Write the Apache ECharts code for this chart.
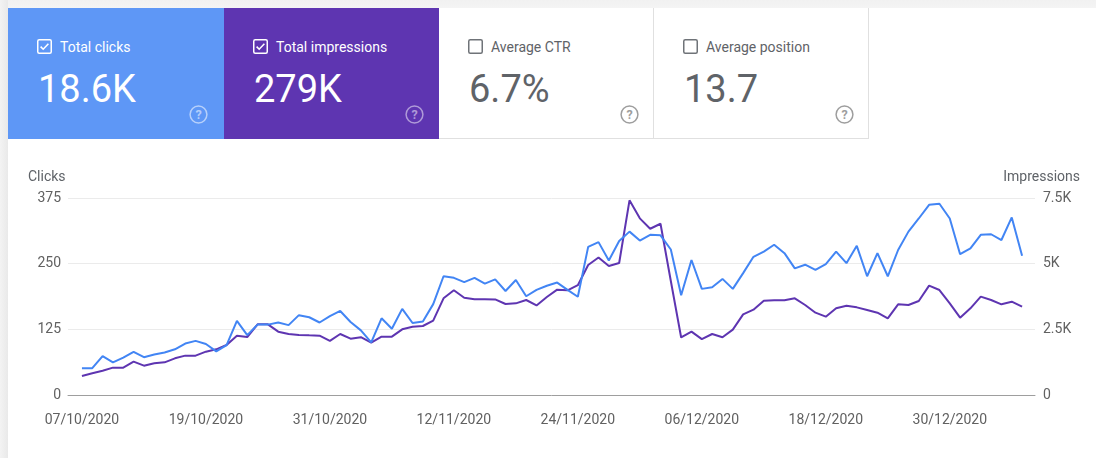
<!DOCTYPE html>
<html>
<head>
<meta charset="utf-8">
<script src="https://cdn.jsdelivr.net/npm/echarts@6/dist/echarts.min.js"></script>
<style>
  html, body { margin:0; padding:0; width:1096px; height:458px; overflow:hidden; background:#fff; font-family: Roboto, "Noto Sans", Arial, sans-serif; }
  #topstrip { position:absolute; left:0; top:0; width:1096px; height:8px; background:linear-gradient(#f1f1f1,#f4f4f4); }
  #leftstrip { position:absolute; left:0; top:0; width:8px; height:458px; background:linear-gradient(to right,#f3f3f3,#e9e9e9); }
  #chart { position:absolute; left:0; top:0; width:1096px; height:458px; }
  .card { position:absolute; top:8px; width:215px; height:131px; box-sizing:border-box; z-index:2; }
  .card .cb { position:absolute; left:29px; top:31px; width:15px; height:15px; }
  .card .lbl { position:absolute; left:52px; top:31px; font-size:14px; line-height:17px; white-space:nowrap; }
  .card .val { position:absolute; left:30px; top:57px; font-size:38px; line-height:48px; white-space:nowrap; letter-spacing:0px; }
  .card .help { position:absolute; left:181px; top:97px; width:19px; height:19px; }
  .white { background:#fff; border-right:1px solid #e0e0e0; border-bottom:1px solid #e0e0e0; color:#5f6368; }
</style>
</head>
<body>
<div id="chart"></div>
<div id="topstrip"></div>
<div id="leftstrip"></div>

<div class="card" style="left:8px;width:216px;background:#5e97f6;color:#fff;">
  <svg class="cb" viewBox="0 0 15 15"><rect x="0.75" y="0.75" width="13.5" height="13.5" rx="1.5" fill="none" stroke="#fff" stroke-width="1.5"/><path d="M3.6 7.6 L6.2 10.2 L11.4 4.8" fill="none" stroke="#fff" stroke-width="1.6"/></svg>
  <div class="lbl">Total clicks</div>
  <div class="val">18.6K</div>
  <svg class="help" viewBox="0 0 19 19"><circle cx="9.5" cy="9.5" r="8.4" fill="none" stroke="rgba(255,255,255,0.55)" stroke-width="1.5"/><text x="9.5" y="14" text-anchor="middle" font-size="12.5" font-family="Roboto" font-weight="bold" fill="rgba(255,255,255,0.55)">?</text></svg>
</div>

<div class="card" style="left:224px;background:#5e35b1;color:#fff;">
  <svg class="cb" viewBox="0 0 15 15"><rect x="0.75" y="0.75" width="13.5" height="13.5" rx="1.5" fill="none" stroke="#fff" stroke-width="1.5"/><path d="M3.6 7.6 L6.2 10.2 L11.4 4.8" fill="none" stroke="#fff" stroke-width="1.6"/></svg>
  <div class="lbl">Total impressions</div>
  <div class="val">279K</div>
  <svg class="help" viewBox="0 0 19 19"><circle cx="9.5" cy="9.5" r="8.4" fill="none" stroke="rgba(255,255,255,0.5)" stroke-width="1.5"/><text x="9.5" y="14" text-anchor="middle" font-size="12.5" font-family="Roboto" font-weight="bold" fill="rgba(255,255,255,0.5)">?</text></svg>
</div>

<div class="card white" style="left:439px;">
  <svg class="cb" viewBox="0 0 15 15"><rect x="0.75" y="0.75" width="13.5" height="13.5" rx="1.5" fill="none" stroke="#6f7378" stroke-width="1.5"/></svg>
  <div class="lbl">Average CTR</div>
  <div class="val">6.7%</div>
  <svg class="help" viewBox="0 0 19 19"><circle cx="9.5" cy="9.5" r="8.4" fill="none" stroke="#9e9e9e" stroke-width="1.5"/><text x="9.5" y="14" text-anchor="middle" font-size="12.5" font-family="Roboto" font-weight="bold" fill="#9e9e9e">?</text></svg>
</div>

<div class="card white" style="left:654px;">
  <svg class="cb" viewBox="0 0 15 15"><rect x="0.75" y="0.75" width="13.5" height="13.5" rx="1.5" fill="none" stroke="#6f7378" stroke-width="1.5"/></svg>
  <div class="lbl">Average position</div>
  <div class="val">13.7</div>
  <svg class="help" viewBox="0 0 19 19"><circle cx="9.5" cy="9.5" r="8.4" fill="none" stroke="#9e9e9e" stroke-width="1.5"/><text x="9.5" y="14" text-anchor="middle" font-size="12.5" font-family="Roboto" font-weight="bold" fill="#9e9e9e">?</text></svg>
</div>

<script>
// ---- data (one value per day, 07/10/2020 .. 06/01/2021) ----
const startDate = '07/10/2020';
const clicks = [
  51, 51, 74, 62, 71, 82, 72, 77, 81, 87,
  98, 103, 97, 83, 95, 141, 114, 134, 134, 138,
  133, 152, 148, 138, 150, 160, 139, 123, 100, 146,
  126, 164, 137, 140, 173, 226, 223, 215, 223, 212,
  220, 198, 219, 188, 200, 208, 214, 200, 187, 282,
  291, 256, 293, 311, 294, 305, 304, 277, 190, 257,
  202, 205, 221, 202, 232, 263, 273, 286, 270, 241,
  248, 238, 249, 273, 251, 284, 226, 270, 226, 276,
  311, 336, 362, 364, 336, 268, 279, 305, 306, 295,
  338, 265
];
const impressions = [
  723, 825, 926, 1041, 1041, 1269, 1117, 1206, 1244, 1396,
  1498, 1498, 1650, 1739, 1904, 2259, 2208, 2690, 2690, 2411,
  2322, 2284, 2271, 2259, 2060, 2322, 2145, 2200, 1990, 2221,
  2221, 2500, 2601, 2627, 2830, 3680, 3990, 3700, 3642, 3650,
  3640, 3464, 3490, 3617, 3410, 3730, 4010, 3985, 4180, 4949,
  5235, 4911, 5025, 7410, 6726, 6330, 6520, 4340, 2190, 2411,
  2125, 2322, 2200, 2490, 3071, 3250, 3591, 3604, 3604, 3680,
  3426, 3134, 2982, 3300, 3401, 3337, 3236, 3134, 2919, 3452,
  3426, 3579, 4162, 3997, 3490, 2944, 3300, 3744, 3617, 3452,
  3553, 3363
];
const dateLabels = ['07/10/2020','19/10/2020','31/10/2020','12/11/2020','24/11/2020','06/12/2020','18/12/2020','30/12/2020'];
const dateLabelDays = [0, 12, 24, 36, 48, 60, 72, 84];
const clickTicks = [0, 125, 250, 375];
const impressionTicks = [0, 2500, 5000, 7500];
const impressionTickLabels = ['0', '2.5K', '5K', '7.5K'];

// ---- chart ----
const clickData = clicks.map((v, i) => [i, v]);
const impData = impressions.map((v, i) => [i, v]);
const textColor = '#616161';
const font = 'Roboto, "Noto Sans", Arial, sans-serif';

const chart = echarts.init(document.getElementById('chart'), null, { renderer: 'canvas' });
chart.setOption({
  animation: false,
  textStyle: { fontFamily: font },
  grid: { left: 68, right: 61, top: 198, bottom: 63, containLabel: false },
  graphic: [
    { type: 'text', left: 28, top: 170, style: { text: 'Clicks', fill: '#5f6368', font: '14px ' + font } },
    { type: 'text', right: 16, top: 170, style: { text: 'Impressions', fill: '#5f6368', font: '14px ' + font } }
  ],
  xAxis: {
    type: 'value',
    min: -1.35,
    max: 92.25,
    splitLine: { show: false },
    axisTick: { show: false },
    axisLine: { show: true, lineStyle: { color: '#9e9e9e', width: 1 } },
    axisLabel: {
      customValues: dateLabelDays,
      color: textColor,
      fontSize: 14,
      fontFamily: font,
      margin: 18,
      formatter: v => dateLabels[dateLabelDays.indexOf(Math.round(v))] || ''
    }
  },
  yAxis: [
    {
      type: 'value',
      min: clickTicks[0], max: clickTicks[clickTicks.length - 1], interval: clickTicks[1] - clickTicks[0],
      axisLine: { show: false }, axisTick: { show: false },
      splitLine: { show: true, lineStyle: { color: '#ebebeb', width: 1 } },
      axisLabel: { color: textColor, fontSize: 14, fontFamily: font, margin: 7 }
    },
    {
      type: 'value',
      position: 'right',
      min: impressionTicks[0], max: impressionTicks[impressionTicks.length - 1], interval: impressionTicks[1] - impressionTicks[0],
      axisLine: { show: false }, axisTick: { show: false },
      splitLine: { show: false },
      axisLabel: {
        color: textColor, fontSize: 14, fontFamily: font, margin: 8,
        formatter: v => impressionTickLabels[impressionTicks.indexOf(v)] ?? ''
      }
    }
  ],
  series: [
    {
      name: 'Impressions', type: 'line', yAxisIndex: 1, data: impData,
      showSymbol: false, symbol: 'none', z: 2,
      lineStyle: { color: '#5e35b1', width: 2 }
    },
    {
      name: 'Clicks', type: 'line', yAxisIndex: 0, data: clickData,
      showSymbol: false, symbol: 'none', z: 3,
      lineStyle: { color: '#4285f4', width: 2 }
    }
  ]
});
</script>
</body>
</html>
